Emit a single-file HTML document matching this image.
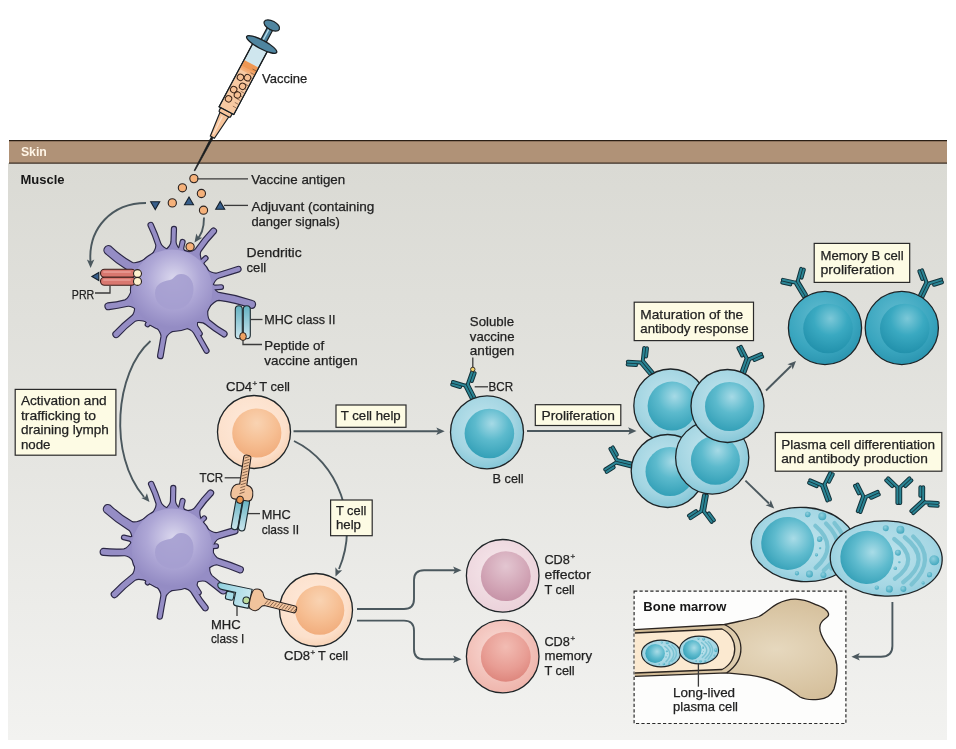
<!DOCTYPE html>
<html><head><meta charset="utf-8">
<style>
html,body{margin:0;padding:0;background:#fff;}
svg{display:block;will-change:transform;}
text{font-family:"Liberation Sans",sans-serif;font-size:13.3px;fill:#222;stroke:#222;stroke-width:0.25px;}
.b{font-weight:bold;}
.ln{stroke:#4b585e;stroke-width:1.9;fill:none;}
.ld{stroke:#3a3a3a;stroke-width:1.3;fill:none;}
.box{fill:#fdfbe4;stroke:#2a2a2a;stroke-width:1.2;}
.ah{fill:#4b585e;}
.ol{stroke:#1f2426;stroke-width:1.3;}
</style></head>
<body>
<svg width="956" height="749" viewBox="0 0 956 749">
<defs>
<linearGradient id="panel" x1="0" y1="0" x2="0" y2="1">
<stop offset="0" stop-color="#dadad4"/><stop offset="0.5" stop-color="#e5e5e1"/><stop offset="1" stop-color="#f2f2f0"/>
</linearGradient>
<radialGradient id="bOut" cx="0.45" cy="0.4" r="0.6">
<stop offset="0" stop-color="#c3e5ee"/><stop offset="0.7" stop-color="#a3d5e2"/><stop offset="1" stop-color="#86c7d8"/>
</radialGradient>
<radialGradient id="bIn" cx="0.55" cy="0.3" r="0.75">
<stop offset="0" stop-color="#a6dae6"/><stop offset="0.45" stop-color="#5cbacd"/><stop offset="1" stop-color="#2f9db5"/>
</radialGradient>
<radialGradient id="mOut" cx="0.45" cy="0.35" r="0.65">
<stop offset="0" stop-color="#63bcd0"/><stop offset="0.7" stop-color="#3aa6bf"/><stop offset="1" stop-color="#2b95b0"/>
</radialGradient>
<radialGradient id="mIn" cx="0.55" cy="0.3" r="0.75">
<stop offset="0" stop-color="#7cc8d8"/><stop offset="0.45" stop-color="#3aa9c1"/><stop offset="1" stop-color="#1f8ea9"/>
</radialGradient>
<radialGradient id="tOut" cx="0.45" cy="0.4" r="0.6">
<stop offset="0" stop-color="#feeadb"/><stop offset="0.8" stop-color="#fce0cb"/><stop offset="1" stop-color="#f8d4b8"/>
</radialGradient>
<radialGradient id="tIn" cx="0.5" cy="0.3" r="0.75">
<stop offset="0" stop-color="#f9d3b2"/><stop offset="0.55" stop-color="#f6be92"/><stop offset="1" stop-color="#f0aa79"/>
</radialGradient>
<radialGradient id="eOut" cx="0.45" cy="0.4" r="0.6">
<stop offset="0" stop-color="#f6e8ec"/><stop offset="1" stop-color="#ebd2da"/>
</radialGradient>
<radialGradient id="eIn" cx="0.5" cy="0.3" r="0.75">
<stop offset="0" stop-color="#e3c6d1"/><stop offset="0.6" stop-color="#d2a5b6"/><stop offset="1" stop-color="#c48fa4"/>
</radialGradient>
<radialGradient id="rOut" cx="0.45" cy="0.4" r="0.6">
<stop offset="0" stop-color="#f9ddd8"/><stop offset="1" stop-color="#efb5ac"/>
</radialGradient>
<radialGradient id="rIn" cx="0.5" cy="0.3" r="0.75">
<stop offset="0" stop-color="#f2bcb3"/><stop offset="0.6" stop-color="#e89d94"/><stop offset="1" stop-color="#dc8279"/>
</radialGradient>
<radialGradient id="dcBody" cx="0.52" cy="0.36" r="0.6">
<stop offset="0" stop-color="#dbd8ee"/><stop offset="0.55" stop-color="#aea7d6"/><stop offset="1" stop-color="#948cc4"/>
</radialGradient>
<radialGradient id="pOut" cx="0.5" cy="0.45" r="0.6">
<stop offset="0" stop-color="#bde3ec"/><stop offset="0.7" stop-color="#a6d7e4"/><stop offset="1" stop-color="#8ccadb"/>
</radialGradient>
<radialGradient id="pIn" cx="0.6" cy="0.4" r="0.7">
<stop offset="0" stop-color="#a9dce7"/><stop offset="0.5" stop-color="#5fbbce"/><stop offset="1" stop-color="#2e9cb4"/>
</radialGradient>
<radialGradient id="pDot" cx="0.4" cy="0.35" r="0.7">
<stop offset="0" stop-color="#8fd0de"/><stop offset="1" stop-color="#3fa6bd"/>
</radialGradient>
<radialGradient id="bone" cx="0.7" cy="0.5" r="0.6">
<stop offset="0" stop-color="#e6d8be"/><stop offset="1" stop-color="#d2bb95"/>
</radialGradient>
<linearGradient id="mhc" x1="0" y1="0" x2="0" y2="1">
<stop offset="0" stop-color="#64b2c2"/><stop offset="1" stop-color="#cbe6ee"/>
</linearGradient>
<linearGradient id="mhcb" x1="0" y1="0" x2="1" y2="0">
<stop offset="0" stop-color="#8fd0de"/><stop offset="1" stop-color="#c8e7ef"/>
</linearGradient>
<marker id="m" markerWidth="10" markerHeight="10" refX="7.5" refY="5" orient="auto" markerUnits="userSpaceOnUse">
<path d="M7.5,5 L0,1.6 L2.5,5 L0,8.4 Z" fill="#4b585e"/>
</marker>
</defs>
<rect x="0" y="0" width="956" height="749" fill="#fff"/>
<rect x="8" y="163" width="939" height="577" fill="url(#panel)"/>
<rect x="9" y="141" width="938" height="22" fill="#b09277"/>
<line x1="9" y1="140.6" x2="947" y2="140.6" stroke="#2a1e14" stroke-width="1.4"/>
<line x1="9" y1="163.2" x2="947" y2="163.2" stroke="#3b2e24" stroke-width="1.3"/>

<text x="20.9" y="156.2" class="b" textLength="26" lengthAdjust="spacingAndGlyphs" style="fill:#fff5e6;stroke:none;font-size:13.6px">Skin</text>
<text x="20.5" y="183.5" class="b" style="font-size:13px;fill:#161616;stroke:none">Muscle</text>
<g transform="translate(272,25) rotate(28)" stroke="#1a1f22" stroke-width="1.2">
<path d="M-1.1,124 L1.1,124 L0.4,165 L-0.4,165 Z" fill="#1a1a1a" stroke-width="0.7"/>
<path d="M-5,101 L5,101 L2.3,127 L-2.3,127 Z" fill="#f6c39a"/>
<path d="M-1,104 L-0.6,124" stroke="#fbe1cb" stroke-width="1.2"/>
<rect x="-6.5" y="95.5" width="13" height="6" rx="1.5" fill="#f6c39a"/>
<rect x="-8.3" y="22" width="16.6" height="75" fill="#cfe6ee"/>
<rect x="-7.7" y="44" width="15.4" height="52.5" fill="#f7c9a2" stroke="none"/>
<rect x="-7.7" y="44" width="15.4" height="8" fill="#ec8e45" stroke="none" opacity="0.85"/>
<rect x="-7.7" y="50" width="15.4" height="4" fill="#f2aa72" stroke="none" opacity="0.8"/>
<rect x="-8.3" y="22" width="16.6" height="75" fill="none"/>
<path d="M3.5,48 H7.5 M3.5,52.2 H7.5 M3.5,56.4 H7.5 M3.5,60.6 H7.5 M3.5,64.8 H7.5 M3.5,69 H7.5 M3.5,73.2 H7.5 M3.5,77.4 H7.5 M3.5,81.6 H7.5 M3.5,85.8 H7.5 M3.5,90 H7.5 " stroke="#6a4a36" stroke-width="0.6"/>
<circle cx="-3.3" cy="61" r="3.2" fill="#f5bf93" stroke="#3a2418" stroke-width="1"/>
<circle cx="3.1" cy="58" r="3.2" fill="#f5bf93" stroke="#3a2418" stroke-width="1"/>
<circle cx="-3.5" cy="75" r="3.2" fill="#f5bf93" stroke="#3a2418" stroke-width="1"/>
<circle cx="2.8" cy="68" r="3.2" fill="#f5bf93" stroke="#3a2418" stroke-width="1"/>
<circle cx="-3.7" cy="85.6" r="3.2" fill="#f5bf93" stroke="#3a2418" stroke-width="1"/>
<circle cx="2.3" cy="78" r="3.2" fill="#f5bf93" stroke="#3a2418" stroke-width="1"/>
<rect x="-3" y="0" width="6" height="22" fill="#4f85a0"/>
<path d="M-0.8,4 V19" stroke="#b7dbe8" stroke-width="1.3"/>
<ellipse cx="0" cy="22" rx="17" ry="4.3" fill="#4f85a0" stroke-width="1.3"/>
<ellipse cx="0" cy="0.5" rx="8.5" ry="4.5" fill="#4f85a0" stroke-width="1.3"/>
</g>
<g transform="translate(803.6,544.5) rotate(4) scale(1,1)">
<ellipse cx="0" cy="0" rx="52.5" ry="37.1" fill="url(#pOut)" stroke="#1e2427" stroke-width="1.3"/>
<circle cx="-15.9" cy="0" r="26.5" fill="url(#pIn)"/>
<path d="M10.4,-19.5 Q36,-0.5 13.6,22.5" stroke="#7cc3d3" stroke-width="4.2" fill="none" stroke-linecap="round"/>
<path d="M20.9,-22.5 Q47.4,0 21.9,24.5" stroke="#7cc3d3" stroke-width="4.2" fill="none" stroke-linecap="round"/>
<path d="M29.3,-23.5 Q54.3,0.75 29.3,22" stroke="#7cc3d3" stroke-width="4.2" fill="none" stroke-linecap="round"/>
<circle cx="2.1" cy="-30.3" r="2.8" fill="url(#pDot)"/>
<circle cx="16.7" cy="-29.4" r="4" fill="url(#pDot)"/>
<circle cx="15.7" cy="-6.5" r="2.8" fill="url(#pDot)"/>
<circle cx="16.7" cy="2.5" r="1.2" fill="url(#pDot)"/>
<circle cx="13.6" cy="9.5" r="1.6" fill="url(#pDot)"/>
<circle cx="-4.6" cy="29.1" r="2.2" fill="url(#pDot)"/>
<circle cx="7.9" cy="29.1" r="3.5" fill="url(#pDot)"/>
<circle cx="21.9" cy="29.1" r="3" fill="url(#pDot)"/>
</g>
<g transform="translate(886.2,558.5) rotate(2) scale(1,1)">
<ellipse cx="0" cy="0" rx="56" ry="37.6" fill="url(#pOut)" stroke="#1e2427" stroke-width="1.3"/>
<circle cx="-19.3" cy="-0.5" r="26.6" fill="url(#pIn)"/>
<path d="M7.3,-19.8 Q35.65,0.1 9.4,20" stroke="#7cc3d3" stroke-width="4.2" fill="none" stroke-linecap="round"/>
<path d="M17.8,-21.9 Q47,-0.4 17.8,23.1" stroke="#7cc3d3" stroke-width="4.2" fill="none" stroke-linecap="round"/>
<path d="M26.2,-22.9 Q51.4,-0.95 26.2,25.2" stroke="#7cc3d3" stroke-width="4.2" fill="none" stroke-linecap="round"/>
<circle cx="-1.5" cy="-30.3" r="3" fill="url(#pDot)"/>
<circle cx="13.2" cy="-29.2" r="4" fill="url(#pDot)"/>
<circle cx="11.5" cy="-6.2" r="3" fill="url(#pDot)"/>
<circle cx="13.2" cy="3.2" r="1.2" fill="url(#pDot)"/>
<circle cx="9.4" cy="9.5" r="1.8" fill="url(#pDot)"/>
<circle cx="-8.4" cy="29.4" r="2.2" fill="url(#pDot)"/>
<circle cx="4.2" cy="30.4" r="3.5" fill="url(#pDot)"/>
<circle cx="18.2" cy="29.8" r="3" fill="url(#pDot)"/>
<circle cx="48.1" cy="0.1" r="5" fill="url(#pDot)"/>
<circle cx="43.9" cy="14.7" r="2.6" fill="url(#pDot)"/>
<circle cx="37.7" cy="23.1" r="1.6" fill="url(#pDot)"/>
</g>
<rect x="634.1" y="591.2" width="211.8" height="132.3" fill="#fdfdfc" stroke="#2a2a2a" stroke-width="1.2" stroke-dasharray="3.2,2.2"/>
<path d="M634.8,629.6 L724.4,624.5 C740,621 752,619 758.9,616.5 C766,613 771,607 777.3,603.8 C785,600 790,599 795.7,599.2 C803,599.5 810,602 814.1,603.8 C819,606 823,607 825.6,609.6 C829,612 829,615 827.9,616.2 C826,619 823,619 821,623 C818,628 820,634 825.6,642.9 C830,650 834,652 835.8,660 C838,668 837,680 834,689 C831,696 825,699 818.7,699.3 C812,700 806,700 800,697 C794,693 786,686 772.7,680.9 C764,677.5 756,676 749.7,675.2 L726.7,672.9 L634.8,676.3 Z" fill="url(#bone)" stroke="none"/>
<path d="M634.8,629.6 L724.4,624.5 C740,621 752,619 758.9,616.5 C766,613 771,607 777.3,603.8 C785,600 790,599 795.7,599.2 C803,599.5 810,602 814.1,603.8 C819,606 823,607 825.6,609.6 C829,612 829,615 827.9,616.2 C826,619 823,619 821,623 C818,628 820,634 825.6,642.9 C830,650 834,652 835.8,660 C838,668 837,680 834,689 C831,696 825,699 818.7,699.3 C812,700 806,700 800,697 C794,693 786,686 772.7,680.9 C764,677.5 756,676 749.7,675.2 L726.7,672.9 L634.8,676.3" fill="none" stroke="#2a2420" stroke-width="1.3"/>
<path d="M724.4,624.5 C746,635 746,660 726.7,672.9" fill="none" stroke="#2a2420" stroke-width="1.3"/>
<path d="M634.8,633 L722,629 C739,637 739,661 722,669.5 L634.8,673 Z" fill="#fbe9d0" stroke="none"/>
<path d="M634.8,633 L722,629 C739,637 739,661 722,669.5 L634.8,673" fill="none" stroke="#2a2420" stroke-width="1.3"/>
<g transform="translate(661,653.5) rotate(0) scale(0.37,0.36)">
<ellipse cx="0" cy="0" rx="52.5" ry="37.1" fill="url(#pOut)" stroke="#1e2427" stroke-width="2.97"/>
<circle cx="-15.9" cy="0" r="26.5" fill="url(#pIn)"/>
<path d="M10.4,-19.5 Q36,-0.5 13.6,22.5" stroke="#7cc3d3" stroke-width="4.2" fill="none" stroke-linecap="round"/>
<path d="M20.9,-22.5 Q47.4,0 21.9,24.5" stroke="#7cc3d3" stroke-width="4.2" fill="none" stroke-linecap="round"/>
<path d="M29.3,-23.5 Q54.3,0.75 29.3,22" stroke="#7cc3d3" stroke-width="4.2" fill="none" stroke-linecap="round"/>
<circle cx="2.1" cy="-30.3" r="2.8" fill="url(#pDot)"/>
<circle cx="16.7" cy="-29.4" r="4" fill="url(#pDot)"/>
<circle cx="15.7" cy="-6.5" r="2.8" fill="url(#pDot)"/>
<circle cx="16.7" cy="2.5" r="1.2" fill="url(#pDot)"/>
<circle cx="13.6" cy="9.5" r="1.6" fill="url(#pDot)"/>
<circle cx="-4.6" cy="29.1" r="2.2" fill="url(#pDot)"/>
<circle cx="7.9" cy="29.1" r="3.5" fill="url(#pDot)"/>
<circle cx="21.9" cy="29.1" r="3" fill="url(#pDot)"/>
</g>
<g transform="translate(699,650) rotate(0) scale(0.35,0.37)">
<ellipse cx="0" cy="0" rx="56" ry="37.6" fill="url(#pOut)" stroke="#1e2427" stroke-width="3.14"/>
<circle cx="-19.3" cy="-0.5" r="26.6" fill="url(#pIn)"/>
<path d="M7.3,-19.8 Q35.65,0.1 9.4,20" stroke="#7cc3d3" stroke-width="4.2" fill="none" stroke-linecap="round"/>
<path d="M17.8,-21.9 Q47,-0.4 17.8,23.1" stroke="#7cc3d3" stroke-width="4.2" fill="none" stroke-linecap="round"/>
<path d="M26.2,-22.9 Q51.4,-0.95 26.2,25.2" stroke="#7cc3d3" stroke-width="4.2" fill="none" stroke-linecap="round"/>
<circle cx="-1.5" cy="-30.3" r="3" fill="url(#pDot)"/>
<circle cx="13.2" cy="-29.2" r="4" fill="url(#pDot)"/>
<circle cx="11.5" cy="-6.2" r="3" fill="url(#pDot)"/>
<circle cx="13.2" cy="3.2" r="1.2" fill="url(#pDot)"/>
<circle cx="9.4" cy="9.5" r="1.8" fill="url(#pDot)"/>
<circle cx="-8.4" cy="29.4" r="2.2" fill="url(#pDot)"/>
<circle cx="4.2" cy="30.4" r="3.5" fill="url(#pDot)"/>
<circle cx="18.2" cy="29.8" r="3" fill="url(#pDot)"/>
<circle cx="48.1" cy="0.1" r="5" fill="url(#pDot)"/>
<circle cx="43.9" cy="14.7" r="2.6" fill="url(#pDot)"/>
<circle cx="37.7" cy="23.1" r="1.6" fill="url(#pDot)"/>
</g>
<text x="643.3" y="610.7" class="b" style="font-size:13px;fill:#161616;stroke:none">Bone marrow</text>
<text x="673.1" y="696.7" textLength="62" lengthAdjust="spacingAndGlyphs">Long-lived</text>
<text x="673.1" y="710.5" textLength="64.9" lengthAdjust="spacingAndGlyphs">plasma cell</text>
<g fill="#2b2745" stroke="#2b2745" stroke-width="2.3" stroke-linejoin="round"><path d="M146.71,258.8 Q136.66,264.48 132.26,263.02 Q120.43,256.41 110.51,246.74 A4,4 0 0 0 106.26,253.51 Q116.39,262.85 128.01,269.8 Q132.2,271.6 132.9,280.83 Z"/><path d="M169.65,250.78 Q161.36,247.71 160.22,243.35 Q156.95,233.66 152.63,224.33 A2.08,2.08 0 0 0 148.67,225.63 Q153.2,234.9 156.27,244.64 Q157.03,249.13 150.64,257.02 Z"/><path d="M182.2,252.3 Q175.58,246.59 175.52,242.09 Q175.63,235.57 175.94,229.06 A2,2 0 0 0 171.94,228.94 Q171.83,235.45 171.52,241.96 Q171.18,246.45 164.21,251.73 Z"/><path d="M187.98,254.61 Q182.83,250.62 183.13,248.34 Q183.7,245.3 184.46,242.29 A1.92,1.92 0 0 0 180.71,241.46 Q180.14,244.51 179.38,247.52 Q178.69,249.71 172.35,251.17 Z"/><path d="M202.88,265.28 Q198.4,255.39 200.32,251.24 Q207.03,241.15 215.58,232.34 A2.4,2.4 0 0 0 211.66,229.58 Q203.31,238.52 196.4,248.47 Q194.15,252.39 184.9,252.6 Z"/><path d="M204.45,269.02 Q202.5,263.94 203.59,262.64 Q205.2,261 206.93,259.49 A1.76,1.76 0 0 0 204.51,256.93 Q202.9,258.56 201.17,260.08 Q199.81,261.09 194.85,258.84 Z"/><path d="M211.25,288.16 Q214.23,279.3 218.47,277.76 Q228.72,274.43 239.03,271.31 A2.24,2.24 0 0 0 237.69,267.03 Q227.44,270.37 217.13,273.49 Q212.77,274.65 205.26,269.08 Z"/><path d="M210.35,294.76 Q212.85,289.56 215.13,289.23 Q218.23,288.96 221.35,288.86 A1.76,1.76 0 0 0 221.14,285.35 Q218.03,285.62 214.92,285.71 Q212.62,285.65 209.52,280.78 Z"/><path d="M207.26,308.57 Q214.38,300.08 218.99,299.87 Q235.39,301.85 251.1,307.71 A3.36,3.36 0 0 0 252.29,301.1 Q236.53,295.57 220.19,293.26 Q215.65,293.08 211.53,284.95 Z"/><path d="M194.62,322.13 Q202.89,320.85 206.05,324.08 Q213.85,330.51 222.62,335.79 A2.4,2.4 0 0 0 225.71,332.12 Q216.79,327.03 209.14,320.41 Q206.24,316.87 207.5,306.84 Z"/><path d="M183.81,326.99 Q191.64,328.87 194.04,332.69 Q199.54,342.18 204.88,351.78 A1.92,1.92 0 0 0 208.22,349.88 Q202.72,340.38 197.38,330.79 Q195.33,326.78 197.72,319.09 Z"/><path d="M186.7,325.73 Q192.94,325.82 194.64,328.08 Q196.78,331.26 198.79,334.52 A1.6,1.6 0 0 0 201.48,332.79 Q199.34,329.61 197.33,326.35 Q195.97,323.87 198.47,318.15 Z"/><path d="M155.55,325.68 Q162.04,332.41 161.45,336.88 Q159.93,346.16 158.18,355.4 A2.24,2.24 0 0 0 162.6,356.18 Q164.12,346.9 165.86,337.66 Q166.84,333.26 175.24,329.16 Z"/><path d="M144.32,316.96 Q147.81,320.76 147.47,321.59 Q146.85,322.62 146.08,323.55 A1.76,1.76 0 0 0 148.95,325.58 Q149.57,324.55 150.34,323.63 Q151.01,323.02 155.75,325.06 Z"/><path d="M135.39,304.99 Q135.49,313.97 131.7,316.43 Q122.55,323.65 114.44,332.18 A2.72,2.72 0 0 0 117.82,336.44 Q125.76,327.7 135.08,320.69 Q139.12,318.54 149.06,322.23 Z"/><path d="M132.46,288.75 Q129.31,298.64 125.12,300.41 Q116.53,302.66 107.58,303.5 A2.88,2.88 0 0 0 109,309.08 Q117.88,307.97 126.55,305.99 Q130.83,304.61 137.91,310.07 Z"/><circle cx="172" cy="290" r="41"/></g>
<g fill="#958dc5"><path d="M146.71,258.8 Q136.66,264.48 132.26,263.02 Q120.43,256.41 110.51,246.74 A4,4 0 0 0 106.26,253.51 Q116.39,262.85 128.01,269.8 Q132.2,271.6 132.9,280.83 Z"/><path d="M169.65,250.78 Q161.36,247.71 160.22,243.35 Q156.95,233.66 152.63,224.33 A2.08,2.08 0 0 0 148.67,225.63 Q153.2,234.9 156.27,244.64 Q157.03,249.13 150.64,257.02 Z"/><path d="M182.2,252.3 Q175.58,246.59 175.52,242.09 Q175.63,235.57 175.94,229.06 A2,2 0 0 0 171.94,228.94 Q171.83,235.45 171.52,241.96 Q171.18,246.45 164.21,251.73 Z"/><path d="M187.98,254.61 Q182.83,250.62 183.13,248.34 Q183.7,245.3 184.46,242.29 A1.92,1.92 0 0 0 180.71,241.46 Q180.14,244.51 179.38,247.52 Q178.69,249.71 172.35,251.17 Z"/><path d="M202.88,265.28 Q198.4,255.39 200.32,251.24 Q207.03,241.15 215.58,232.34 A2.4,2.4 0 0 0 211.66,229.58 Q203.31,238.52 196.4,248.47 Q194.15,252.39 184.9,252.6 Z"/><path d="M204.45,269.02 Q202.5,263.94 203.59,262.64 Q205.2,261 206.93,259.49 A1.76,1.76 0 0 0 204.51,256.93 Q202.9,258.56 201.17,260.08 Q199.81,261.09 194.85,258.84 Z"/><path d="M211.25,288.16 Q214.23,279.3 218.47,277.76 Q228.72,274.43 239.03,271.31 A2.24,2.24 0 0 0 237.69,267.03 Q227.44,270.37 217.13,273.49 Q212.77,274.65 205.26,269.08 Z"/><path d="M210.35,294.76 Q212.85,289.56 215.13,289.23 Q218.23,288.96 221.35,288.86 A1.76,1.76 0 0 0 221.14,285.35 Q218.03,285.62 214.92,285.71 Q212.62,285.65 209.52,280.78 Z"/><path d="M207.26,308.57 Q214.38,300.08 218.99,299.87 Q235.39,301.85 251.1,307.71 A3.36,3.36 0 0 0 252.29,301.1 Q236.53,295.57 220.19,293.26 Q215.65,293.08 211.53,284.95 Z"/><path d="M194.62,322.13 Q202.89,320.85 206.05,324.08 Q213.85,330.51 222.62,335.79 A2.4,2.4 0 0 0 225.71,332.12 Q216.79,327.03 209.14,320.41 Q206.24,316.87 207.5,306.84 Z"/><path d="M183.81,326.99 Q191.64,328.87 194.04,332.69 Q199.54,342.18 204.88,351.78 A1.92,1.92 0 0 0 208.22,349.88 Q202.72,340.38 197.38,330.79 Q195.33,326.78 197.72,319.09 Z"/><path d="M186.7,325.73 Q192.94,325.82 194.64,328.08 Q196.78,331.26 198.79,334.52 A1.6,1.6 0 0 0 201.48,332.79 Q199.34,329.61 197.33,326.35 Q195.97,323.87 198.47,318.15 Z"/><path d="M155.55,325.68 Q162.04,332.41 161.45,336.88 Q159.93,346.16 158.18,355.4 A2.24,2.24 0 0 0 162.6,356.18 Q164.12,346.9 165.86,337.66 Q166.84,333.26 175.24,329.16 Z"/><path d="M144.32,316.96 Q147.81,320.76 147.47,321.59 Q146.85,322.62 146.08,323.55 A1.76,1.76 0 0 0 148.95,325.58 Q149.57,324.55 150.34,323.63 Q151.01,323.02 155.75,325.06 Z"/><path d="M135.39,304.99 Q135.49,313.97 131.7,316.43 Q122.55,323.65 114.44,332.18 A2.72,2.72 0 0 0 117.82,336.44 Q125.76,327.7 135.08,320.69 Q139.12,318.54 149.06,322.23 Z"/><path d="M132.46,288.75 Q129.31,298.64 125.12,300.41 Q116.53,302.66 107.58,303.5 A2.88,2.88 0 0 0 109,309.08 Q117.88,307.97 126.55,305.99 Q130.83,304.61 137.91,310.07 Z"/><circle cx="172" cy="290" r="41"/></g>
<circle cx="172" cy="290" r="40.5" fill="url(#dcBody)"/>
<path transform="translate(0,0)" d="M155,293 C155,284 163,281 170,280 C174,279 175,274 181,274 C189,274 194,281 193.5,290 C193,301 186,309 175,309.5 C163,310 155,303 155,293 Z" fill="#a59ed0" opacity="0.9"/>
<g fill="#2b2745" stroke="#2b2745" stroke-width="2.3" stroke-linejoin="round"><path d="M146.6,517.89 Q136.58,523.59 132.18,522.14 Q120.13,515.48 110.01,505.72 A4,4 0 0 0 105.78,512.51 Q116.12,521.93 127.95,528.93 Q132.14,530.72 132.87,539.96 Z"/><path d="M169.91,509.76 Q161.65,506.64 160.54,502.27 Q157.36,492.64 153.12,483.34 A2.08,2.08 0 0 0 149.16,484.62 Q153.59,493.84 156.58,503.54 Q157.31,508.03 150.87,515.87 Z"/><path d="M181.78,511.19 Q175.1,505.55 174.99,501.05 Q175.02,494.54 175.26,488.04 A2,2 0 0 0 171.26,487.96 Q171.22,494.47 170.99,500.97 Q170.7,505.46 163.79,510.82 Z"/><path d="M187.98,513.61 Q182.83,509.62 183.13,507.34 Q183.7,504.3 184.46,501.29 A1.92,1.92 0 0 0 180.71,500.46 Q180.14,503.51 179.38,506.52 Q178.69,508.71 172.35,510.17 Z"/><path d="M202.63,523.96 Q197.94,514.05 199.8,509.87 Q205.39,501.54 212.61,494.34 A2.4,2.4 0 0 0 208.66,491.61 Q201.64,498.95 195.85,507.14 Q193.66,511.1 184.52,511.47 Z"/><path d="M204.28,527.77 Q201.96,523.01 202.77,521.96 Q204,520.66 205.35,519.49 A1.76,1.76 0 0 0 202.91,516.95 Q201.68,518.25 200.33,519.42 Q199.24,520.18 194.6,517.66 Z"/><path d="M211.56,548.96 Q214.59,539.67 218.85,538.22 Q227.16,535.67 235.55,533.37 A2.72,2.72 0 0 0 234.03,528.15 Q225.72,530.7 217.34,533 Q212.96,534.06 205.42,527.84 Z"/><path d="M210.37,553.51 Q211.61,548.38 212.88,548.1 Q214.61,547.9 216.36,547.87 A1.76,1.76 0 0 0 216.13,544.36 Q214.4,544.56 212.65,544.59 Q211.36,544.47 209.46,539.54 Z"/><path d="M205.16,570.57 Q212.99,563.72 217.49,564.39 Q228.7,567.52 239.41,572.31 A2.72,2.72 0 0 0 240.99,567.11 Q230.2,562.58 219.07,559.18 Q214.69,558.13 211.56,549.52 Z"/><path d="M194.25,582.06 Q203.66,579.07 207.31,581.72 Q214.24,587 220.94,592.57 A3.6,3.6 0 0 0 225.43,586.94 Q218.5,581.65 211.79,576.08 Q208.4,573.12 209.2,563.28 Z"/><path d="M182,587 Q190.19,588.69 192.02,592.82 Q196.99,601.32 203.23,609.09 A2.4,2.4 0 0 0 207.41,606.73 Q200.96,599.07 196.2,590.46 Q194.72,586.13 199.41,577.15 Z"/><path d="M186.13,584.96 Q192.3,585.03 193.9,587.23 Q195.92,590.32 197.8,593.49 A1.6,1.6 0 0 0 200.51,591.8 Q198.5,588.71 196.62,585.54 Q195.36,583.13 198.02,577.57 Z"/><path d="M155.39,584.61 Q162.01,591.4 161.4,595.86 Q159.67,606.04 157.72,616.18 A2.08,2.08 0 0 0 161.82,616.92 Q163.55,606.74 165.5,596.6 Q166.49,592.21 175.07,588.17 Z"/><path d="M144.02,575.64 Q147.59,579.3 147.34,579.99 Q146.84,580.82 146.21,581.54 A1.76,1.76 0 0 0 149.06,583.61 Q149.55,582.78 150.18,582.06 Q150.76,581.6 155.35,583.87 Z"/><path d="M135.35,563.89 Q135.45,572.9 131.66,575.36 Q121.71,583.07 112.85,592.18 A2.72,2.72 0 0 0 116.22,596.45 Q124.91,587.13 135.03,579.63 Q139.07,577.49 148.97,581.17 Z"/><path d="M133.57,539.61 Q128.44,548.56 123.98,549.43 Q113.75,550.02 103.46,549 A2.88,2.88 0 0 0 103.7,554.76 Q113.98,555.49 124.22,555.18 Q128.7,554.71 134.5,561.59 Z"/><path d="M136.68,533.33 Q132.7,537.55 130.36,537.2 Q127.22,536.53 124.12,535.7 A1.76,1.76 0 0 0 123.3,539.12 Q126.44,539.78 129.54,540.62 Q131.79,541.36 133.42,546.94 Z"/><circle cx="172" cy="549" r="41"/></g>
<g fill="#958dc5"><path d="M146.6,517.89 Q136.58,523.59 132.18,522.14 Q120.13,515.48 110.01,505.72 A4,4 0 0 0 105.78,512.51 Q116.12,521.93 127.95,528.93 Q132.14,530.72 132.87,539.96 Z"/><path d="M169.91,509.76 Q161.65,506.64 160.54,502.27 Q157.36,492.64 153.12,483.34 A2.08,2.08 0 0 0 149.16,484.62 Q153.59,493.84 156.58,503.54 Q157.31,508.03 150.87,515.87 Z"/><path d="M181.78,511.19 Q175.1,505.55 174.99,501.05 Q175.02,494.54 175.26,488.04 A2,2 0 0 0 171.26,487.96 Q171.22,494.47 170.99,500.97 Q170.7,505.46 163.79,510.82 Z"/><path d="M187.98,513.61 Q182.83,509.62 183.13,507.34 Q183.7,504.3 184.46,501.29 A1.92,1.92 0 0 0 180.71,500.46 Q180.14,503.51 179.38,506.52 Q178.69,508.71 172.35,510.17 Z"/><path d="M202.63,523.96 Q197.94,514.05 199.8,509.87 Q205.39,501.54 212.61,494.34 A2.4,2.4 0 0 0 208.66,491.61 Q201.64,498.95 195.85,507.14 Q193.66,511.1 184.52,511.47 Z"/><path d="M204.28,527.77 Q201.96,523.01 202.77,521.96 Q204,520.66 205.35,519.49 A1.76,1.76 0 0 0 202.91,516.95 Q201.68,518.25 200.33,519.42 Q199.24,520.18 194.6,517.66 Z"/><path d="M211.56,548.96 Q214.59,539.67 218.85,538.22 Q227.16,535.67 235.55,533.37 A2.72,2.72 0 0 0 234.03,528.15 Q225.72,530.7 217.34,533 Q212.96,534.06 205.42,527.84 Z"/><path d="M210.37,553.51 Q211.61,548.38 212.88,548.1 Q214.61,547.9 216.36,547.87 A1.76,1.76 0 0 0 216.13,544.36 Q214.4,544.56 212.65,544.59 Q211.36,544.47 209.46,539.54 Z"/><path d="M205.16,570.57 Q212.99,563.72 217.49,564.39 Q228.7,567.52 239.41,572.31 A2.72,2.72 0 0 0 240.99,567.11 Q230.2,562.58 219.07,559.18 Q214.69,558.13 211.56,549.52 Z"/><path d="M194.25,582.06 Q203.66,579.07 207.31,581.72 Q214.24,587 220.94,592.57 A3.6,3.6 0 0 0 225.43,586.94 Q218.5,581.65 211.79,576.08 Q208.4,573.12 209.2,563.28 Z"/><path d="M182,587 Q190.19,588.69 192.02,592.82 Q196.99,601.32 203.23,609.09 A2.4,2.4 0 0 0 207.41,606.73 Q200.96,599.07 196.2,590.46 Q194.72,586.13 199.41,577.15 Z"/><path d="M186.13,584.96 Q192.3,585.03 193.9,587.23 Q195.92,590.32 197.8,593.49 A1.6,1.6 0 0 0 200.51,591.8 Q198.5,588.71 196.62,585.54 Q195.36,583.13 198.02,577.57 Z"/><path d="M155.39,584.61 Q162.01,591.4 161.4,595.86 Q159.67,606.04 157.72,616.18 A2.08,2.08 0 0 0 161.82,616.92 Q163.55,606.74 165.5,596.6 Q166.49,592.21 175.07,588.17 Z"/><path d="M144.02,575.64 Q147.59,579.3 147.34,579.99 Q146.84,580.82 146.21,581.54 A1.76,1.76 0 0 0 149.06,583.61 Q149.55,582.78 150.18,582.06 Q150.76,581.6 155.35,583.87 Z"/><path d="M135.35,563.89 Q135.45,572.9 131.66,575.36 Q121.71,583.07 112.85,592.18 A2.72,2.72 0 0 0 116.22,596.45 Q124.91,587.13 135.03,579.63 Q139.07,577.49 148.97,581.17 Z"/><path d="M133.57,539.61 Q128.44,548.56 123.98,549.43 Q113.75,550.02 103.46,549 A2.88,2.88 0 0 0 103.7,554.76 Q113.98,555.49 124.22,555.18 Q128.7,554.71 134.5,561.59 Z"/><path d="M136.68,533.33 Q132.7,537.55 130.36,537.2 Q127.22,536.53 124.12,535.7 A1.76,1.76 0 0 0 123.3,539.12 Q126.44,539.78 129.54,540.62 Q131.79,541.36 133.42,546.94 Z"/><circle cx="172" cy="549" r="41"/></g>
<circle cx="172" cy="549" r="40.5" fill="url(#dcBody)"/>
<path transform="translate(0,259)" d="M155,293 C155,284 163,281 170,280 C174,279 175,274 181,274 C189,274 194,281 193.5,290 C193,301 186,309 175,309.5 C163,310 155,303 155,293 Z" fill="#a59ed0" opacity="0.9"/>
<circle cx="193.9" cy="178.6" r="4.1" fill="#f5b17a" stroke="#2a2220" stroke-width="1.1"/>
<circle cx="182.4" cy="187.8" r="4.1" fill="#f5b17a" stroke="#2a2220" stroke-width="1.1"/>
<circle cx="201.4" cy="193.5" r="4.1" fill="#f5b17a" stroke="#2a2220" stroke-width="1.1"/>
<circle cx="172.3" cy="202.9" r="4.1" fill="#f5b17a" stroke="#2a2220" stroke-width="1.1"/>
<circle cx="203.5" cy="210.2" r="4.1" fill="#f5b17a" stroke="#2a2220" stroke-width="1.1"/>
<path d="M155.2,209.6 L150.7,201.8 L159.7,201.8 Z" fill="#375f8c" stroke="#15202c" stroke-width="1.1"/>
<path d="M189,197 L193.5,204.8 L184.5,204.8 Z" fill="#375f8c" stroke="#15202c" stroke-width="1.1"/>
<path d="M220.2,201.4 L224.7,209.2 L215.7,209.2 Z" fill="#375f8c" stroke="#15202c" stroke-width="1.1"/>
<circle cx="190.1" cy="246.8" r="4.1" fill="#f5b17a" stroke="#2a2220" stroke-width="1.1"/>
<rect x="100.5" y="269.3" width="35" height="8" rx="4" fill="#d9776f" stroke="#3a1c1a" stroke-width="1.1"/>
<rect x="100.5" y="277.3" width="35" height="8" rx="4" fill="#d9776f" stroke="#3a1c1a" stroke-width="1.1"/>
<rect x="103" y="271" width="28" height="2" rx="1" fill="#eaa19a" opacity="0.7"/>
<rect x="103" y="279" width="28" height="2" rx="1" fill="#eaa19a" opacity="0.7"/>
<circle cx="137.5" cy="273.6" r="4" fill="#fdf1cf" stroke="#2a2220" stroke-width="1.1"/>
<circle cx="137.5" cy="281.4" r="4" fill="#fdf1cf" stroke="#2a2220" stroke-width="1.1"/>
<path d="M91.9,276.5 L98.8,272.52 L98.8,280.48 Z" fill="#375f8c" stroke="#15202c" stroke-width="1.1"/>
<rect x="235.3" y="305.8" width="7" height="33" rx="3.5" fill="url(#mhc)" stroke="#1d2a30" stroke-width="1.1"/>
<rect x="243.3" y="305.8" width="7" height="33" rx="3.5" fill="url(#mhc)" stroke="#1d2a30" stroke-width="1.1"/>
<ellipse cx="243" cy="336.5" rx="3.3" ry="4" fill="#f0a262" stroke="#2a2220" stroke-width="1"/>
<path class="ln" d="M146,203 C112,203 88,228 90.5,262"/>
<path class="ah" d="M90.6,268 L94.3,259.6 L90.6,261.5 L86.9,259.6 Z"/>
<path class="ln" d="M204,217.5 C204,228 201,236 196,240"/>
<path class="ah" d="M194.5,242.5 L202.35,237.74 L198.23,237.18 L196.29,233.5 Z"/>
<path class="ln" d="M150.5,341 C115,372 108,455 144,497"/>
<path class="ah" d="M149.5,502 L146.93,493.19 L145.32,497.02 L141.27,497.94 Z"/>
<path class="ln" d="M293.5,431.2 H438"/>
<path class="ah" d="M444.7,431.2 L436.3,427.5 L438.2,431.2 L436.3,434.9 Z"/>
<path class="ln" d="M527,431 H630"/>
<path class="ah" d="M636.5,431 L628.1,427.3 L630,431 L628.1,434.7 Z"/>
<path class="ln" d="M294,441 C338,462 360,520 339,569"/>
<path class="ah" d="M335.5,576.5 L342.19,570.21 L338.04,570.52 L335.38,567.32 Z"/>
<path class="ln" d="M357,609 H404 Q414,609 414,599 V580 Q414,570.2 424,570.2 H455"/>
<path class="ah" d="M461.5,570.2 L453.1,566.5 L455,570.2 L453.1,573.9 Z"/>
<path class="ln" d="M357,620.6 H404 Q414,620.6 414,630.6 V649.2 Q414,659.2 424,659.2 H455"/>
<path class="ah" d="M461.5,659.2 L453.1,655.5 L455,659.2 L453.1,662.9 Z"/>
<path class="ln" d="M766,390.5 L791,366"/>
<path class="ah" d="M796,361 L787.44,364.32 L791.4,365.6 L792.68,369.56 Z"/>
<path class="ln" d="M745.4,480.6 L769,503.5"/>
<path class="ah" d="M774.2,508.4 L770.73,499.9 L769.52,503.88 L765.59,505.23 Z"/>
<path class="ln" d="M892.4,602 V646 Q892.4,656.7 881,656.7 H858"/>
<path class="ah" d="M851.4,656.7 L859.8,660.4 L857.9,656.7 L859.8,653 Z"/>
<path class="ld" d="M197,178.8 H248"/>
<path class="ld" d="M224,205.4 H248"/>
<path class="ld" d="M110,286 V293 H95"/>
<path class="ld" d="M250.5,319.5 H262.5"/>
<path class="ld" d="M243,340 V344.5 H262"/>
<path class="ld" d="M472.8,368 V357.5"/>
<path class="ld" d="M474.7,386.8 H488"/>
<path class="ld" d="M224.7,477.8 H240.7"/>
<path class="ld" d="M247.4,513.6 H260"/>
<path class="ld" d="M237,601 V616"/>
<path class="ld" d="M698.4,663 V686.7"/>
<text x="262" y="83" textLength="45.3" lengthAdjust="spacingAndGlyphs">Vaccine</text>
<text x="251.2" y="184" textLength="94" lengthAdjust="spacingAndGlyphs">Vaccine antigen</text>
<text x="251.4" y="211" textLength="123" lengthAdjust="spacingAndGlyphs">Adjuvant (containing</text>
<text x="251.4" y="225.5" textLength="88.5" lengthAdjust="spacingAndGlyphs">danger signals)</text>
<text x="246.6" y="256.8" textLength="55.1" lengthAdjust="spacingAndGlyphs">Dendritic</text>
<text x="246.6" y="271.6" textLength="19.6" lengthAdjust="spacingAndGlyphs">cell</text>
<text x="71.8" y="299" textLength="22.5" lengthAdjust="spacingAndGlyphs">PRR</text>
<text x="264.3" y="323.7" textLength="71.2" lengthAdjust="spacingAndGlyphs">MHC class II</text>
<text x="264.3" y="349.8" textLength="59.9" lengthAdjust="spacingAndGlyphs">Peptide of</text>
<text x="264.3" y="364.7" textLength="93.4" lengthAdjust="spacingAndGlyphs">vaccine antigen</text>
<rect class="box" x="15.2" y="389.4" width="100.7" height="65.8"/>
<text x="20.9" y="404.8" textLength="85.7" lengthAdjust="spacingAndGlyphs">Activation and</text>
<text x="20.9" y="419.5" textLength="75.1" lengthAdjust="spacingAndGlyphs">trafficking to</text>
<text x="20.9" y="434.3" textLength="88" lengthAdjust="spacingAndGlyphs">draining lymph</text>
<text x="20.9" y="448.5" textLength="29.6" lengthAdjust="spacingAndGlyphs">node</text>
<text x="469.8" y="325.9" textLength="44.2" lengthAdjust="spacingAndGlyphs">Soluble</text>
<text x="469.8" y="340.9" textLength="44.7" lengthAdjust="spacingAndGlyphs">vaccine</text>
<text x="469.8" y="354.7" textLength="44.5" lengthAdjust="spacingAndGlyphs">antigen</text>
<text x="488.6" y="391.3" textLength="24.6" lengthAdjust="spacingAndGlyphs">BCR</text>
<text x="225.9" y="390.9"><tspan textLength="26.3" lengthAdjust="spacingAndGlyphs">CD4</tspan><tspan x="252.6" y="386" style="font-size:8px">+</tspan><tspan x="259.3" y="390.9" textLength="30.6" lengthAdjust="spacingAndGlyphs">T cell</tspan></text>
<rect class="box" x="336" y="405" width="70" height="22.3"/>
<text x="340.7" y="419.7" textLength="60" lengthAdjust="spacingAndGlyphs">T cell help</text>
<rect class="box" x="535.3" y="404.7" width="85.5" height="20.8"/>
<text x="541.5" y="420.2" textLength="73.4" lengthAdjust="spacingAndGlyphs">Proliferation</text>
<text x="492.6" y="483" textLength="31" lengthAdjust="spacingAndGlyphs">B cell</text>
<rect class="box" x="634.2" y="302.2" width="119.3" height="38.4"/>
<text x="640.3" y="318.8" textLength="102.9" lengthAdjust="spacingAndGlyphs">Maturation of the</text>
<text x="640.3" y="332.6" textLength="108.3" lengthAdjust="spacingAndGlyphs">antibody response</text>
<rect class="box" x="814.2" y="243.4" width="95.5" height="39"/>
<text x="820.5" y="259.8" textLength="83.2" lengthAdjust="spacingAndGlyphs">Memory B cell</text>
<text x="820.5" y="273.9" textLength="73.8" lengthAdjust="spacingAndGlyphs">proliferation</text>
<rect class="box" x="775.3" y="432.5" width="166.5" height="38.7"/>
<text x="781.2" y="448.9" textLength="153.8" lengthAdjust="spacingAndGlyphs">Plasma cell differentiation</text>
<text x="781.2" y="463.1" textLength="146.7" lengthAdjust="spacingAndGlyphs">and antibody production</text>
<text x="199.4" y="481.7" textLength="23.8" lengthAdjust="spacingAndGlyphs">TCR</text>
<text x="261.7" y="519.3" textLength="29" lengthAdjust="spacingAndGlyphs">MHC</text>
<text x="261.7" y="533.5" textLength="37.4" lengthAdjust="spacingAndGlyphs">class II</text>
<rect class="box" x="330.6" y="500" width="41.6" height="35.7"/>
<text x="335.9" y="514.9" textLength="30.5" lengthAdjust="spacingAndGlyphs">T cell</text>
<text x="335.9" y="528.5" textLength="25.1" lengthAdjust="spacingAndGlyphs">help</text>
<text x="210.9" y="628.7" textLength="29.7" lengthAdjust="spacingAndGlyphs">MHC</text>
<text x="210.9" y="642.6" textLength="33.5" lengthAdjust="spacingAndGlyphs">class I</text>
<text x="284" y="660"><tspan textLength="26.1" lengthAdjust="spacingAndGlyphs">CD8</tspan><tspan x="310.6" y="655" style="font-size:8px">+</tspan><tspan x="318.1" y="660" textLength="30.1" lengthAdjust="spacingAndGlyphs">T cell</tspan></text>
<text x="544.4" y="563.7"><tspan textLength="25.5" lengthAdjust="spacingAndGlyphs">CD8</tspan><tspan x="570.5" y="558.7" style="font-size:8px">+</tspan></text>
<text x="544.4" y="578.7" textLength="46.4" lengthAdjust="spacingAndGlyphs">effector</text>
<text x="544.4" y="593.7" textLength="30.3" lengthAdjust="spacingAndGlyphs">T cell</text>
<text x="544.4" y="645.7"><tspan textLength="25.5" lengthAdjust="spacingAndGlyphs">CD8</tspan><tspan x="570.5" y="640.7" style="font-size:8px">+</tspan></text>
<text x="544.4" y="660.1" textLength="47.7" lengthAdjust="spacingAndGlyphs">memory</text>
<text x="544.4" y="674.5" textLength="30.3" lengthAdjust="spacingAndGlyphs">T cell</text>
<circle cx="254" cy="432" r="36.5" fill="url(#tOut)" stroke="#1e2427" stroke-width="1.3"/><circle cx="256.8" cy="433" r="24.6" fill="url(#tIn)"/>
<circle cx="316" cy="610" r="36.5" fill="url(#tOut)" stroke="#1e2427" stroke-width="1.3"/><circle cx="319.7" cy="610.2" r="24.6" fill="url(#tIn)"/>
<circle cx="502.7" cy="575.8" r="36.3" fill="url(#eOut)" stroke="#1e2427" stroke-width="1.3"/><circle cx="505.8" cy="576.2" r="24.9" fill="url(#eIn)"/>
<circle cx="502.7" cy="656.5" r="36.3" fill="url(#rOut)" stroke="#1e2427" stroke-width="1.3"/><circle cx="505.8" cy="656.8" r="24.9" fill="url(#rIn)"/>
<g transform="translate(466.7,385.4) rotate(-27) scale(1)"><path d="M-1.4,15.5 L-1.4,-0.5 M1.4,15.5 L1.4,-0.5 M-1.4,-0.5 L-10.7,-9.3 M-6.58,-1.55 L-12.62,-7.27 M1.4,-0.5 L10.7,-9.3 M6.58,-1.55 L12.62,-7.27" stroke="#13323a" stroke-width="4.0" fill="none" stroke-linecap="round"/><path d="M-1.4,15.5 L-1.4,-0.5 M1.4,15.5 L1.4,-0.5 M-1.4,-0.5 L-10.7,-9.3 M-6.58,-1.55 L-12.62,-7.27 M1.4,-0.5 L10.7,-9.3 M6.58,-1.55 L12.62,-7.27" stroke="#2b8595" stroke-width="2.0" fill="none" stroke-linecap="round"/></g>
<circle cx="487" cy="432.3" r="36.5" fill="url(#bOut)" stroke="#1e2427" stroke-width="1.3"/><circle cx="489.4" cy="433.5" r="24.8" fill="url(#bIn)"/>
<g transform="translate(642,362) rotate(-40) scale(1)"><path d="M-1.4,15.5 L-1.4,-0.5 M1.4,15.5 L1.4,-0.5 M-1.4,-0.5 L-10.7,-9.3 M-6.58,-1.55 L-12.62,-7.27 M1.4,-0.5 L10.7,-9.3 M6.58,-1.55 L12.62,-7.27" stroke="#13323a" stroke-width="4.0" fill="none" stroke-linecap="round"/><path d="M-1.4,15.5 L-1.4,-0.5 M1.4,15.5 L1.4,-0.5 M-1.4,-0.5 L-10.7,-9.3 M-6.58,-1.55 L-12.62,-7.27 M1.4,-0.5 L10.7,-9.3 M6.58,-1.55 L12.62,-7.27" stroke="#2b8595" stroke-width="2.0" fill="none" stroke-linecap="round"/></g>
<g transform="translate(747.8,359.2) rotate(20) scale(1)"><path d="M-1.4,15.5 L-1.4,-0.5 M1.4,15.5 L1.4,-0.5 M-1.4,-0.5 L-10.7,-9.3 M-6.58,-1.55 L-12.62,-7.27 M1.4,-0.5 L10.7,-9.3 M6.58,-1.55 L12.62,-7.27" stroke="#13323a" stroke-width="4.0" fill="none" stroke-linecap="round"/><path d="M-1.4,15.5 L-1.4,-0.5 M1.4,15.5 L1.4,-0.5 M-1.4,-0.5 L-10.7,-9.3 M-6.58,-1.55 L-12.62,-7.27 M1.4,-0.5 L10.7,-9.3 M6.58,-1.55 L12.62,-7.27" stroke="#2b8595" stroke-width="2.0" fill="none" stroke-linecap="round"/></g>
<g transform="translate(616.8,461.4) rotate(-76) scale(1)"><path d="M-1.4,15.5 L-1.4,-0.5 M1.4,15.5 L1.4,-0.5 M-1.4,-0.5 L-10.7,-9.3 M-6.58,-1.55 L-12.62,-7.27 M1.4,-0.5 L10.7,-9.3 M6.58,-1.55 L12.62,-7.27" stroke="#13323a" stroke-width="4.0" fill="none" stroke-linecap="round"/><path d="M-1.4,15.5 L-1.4,-0.5 M1.4,15.5 L1.4,-0.5 M-1.4,-0.5 L-10.7,-9.3 M-6.58,-1.55 L-12.62,-7.27 M1.4,-0.5 L10.7,-9.3 M6.58,-1.55 L12.62,-7.27" stroke="#2b8595" stroke-width="2.0" fill="none" stroke-linecap="round"/></g>
<g transform="translate(702.7,510.8) rotate(-170) scale(1)"><path d="M-1.4,15.5 L-1.4,-0.5 M1.4,15.5 L1.4,-0.5 M-1.4,-0.5 L-10.7,-9.3 M-6.58,-1.55 L-12.62,-7.27 M1.4,-0.5 L10.7,-9.3 M6.58,-1.55 L12.62,-7.27" stroke="#13323a" stroke-width="4.0" fill="none" stroke-linecap="round"/><path d="M-1.4,15.5 L-1.4,-0.5 M1.4,15.5 L1.4,-0.5 M-1.4,-0.5 L-10.7,-9.3 M-6.58,-1.55 L-12.62,-7.27 M1.4,-0.5 L10.7,-9.3 M6.58,-1.55 L12.62,-7.27" stroke="#2b8595" stroke-width="2.0" fill="none" stroke-linecap="round"/></g>
<circle cx="670.6" cy="405.8" r="36.8" fill="url(#bOut)" stroke="#1e2427" stroke-width="1.3"/><circle cx="672.1" cy="406.1" r="24.5" fill="url(#bIn)"/>
<circle cx="667.7" cy="471" r="36.5" fill="url(#bOut)" stroke="#1e2427" stroke-width="1.3"/><circle cx="670" cy="471.5" r="24.5" fill="url(#bIn)"/>
<circle cx="712.2" cy="457.5" r="36.6" fill="url(#bOut)" stroke="#1e2427" stroke-width="1.3"/><circle cx="715.4" cy="460.3" r="24.5" fill="url(#bIn)"/>
<circle cx="727.5" cy="406" r="36.5" fill="url(#bOut)" stroke="#1e2427" stroke-width="1.3"/><circle cx="729.5" cy="406.5" r="24.5" fill="url(#bIn)"/>
<g transform="translate(796.8,282.3) rotate(-31) scale(1)"><path d="M-1.4,15.5 L-1.4,-0.5 M1.4,15.5 L1.4,-0.5 M-1.4,-0.5 L-10.7,-9.3 M-6.58,-1.55 L-12.62,-7.27 M1.4,-0.5 L10.7,-9.3 M6.58,-1.55 L12.62,-7.27" stroke="#13323a" stroke-width="4.0" fill="none" stroke-linecap="round"/><path d="M-1.4,15.5 L-1.4,-0.5 M1.4,15.5 L1.4,-0.5 M-1.4,-0.5 L-10.7,-9.3 M-6.58,-1.55 L-12.62,-7.27 M1.4,-0.5 L10.7,-9.3 M6.58,-1.55 L12.62,-7.27" stroke="#2b8595" stroke-width="2.0" fill="none" stroke-linecap="round"/></g>
<g transform="translate(927.5,283.3) rotate(26) scale(1)"><path d="M-1.4,15.5 L-1.4,-0.5 M1.4,15.5 L1.4,-0.5 M-1.4,-0.5 L-10.7,-9.3 M-6.58,-1.55 L-12.62,-7.27 M1.4,-0.5 L10.7,-9.3 M6.58,-1.55 L12.62,-7.27" stroke="#13323a" stroke-width="4.0" fill="none" stroke-linecap="round"/><path d="M-1.4,15.5 L-1.4,-0.5 M1.4,15.5 L1.4,-0.5 M-1.4,-0.5 L-10.7,-9.3 M-6.58,-1.55 L-12.62,-7.27 M1.4,-0.5 L10.7,-9.3 M6.58,-1.55 L12.62,-7.27" stroke="#2b8595" stroke-width="2.0" fill="none" stroke-linecap="round"/></g>
<circle cx="825" cy="328" r="36.6" fill="url(#mOut)" stroke="#1e2427" stroke-width="1.3"/><circle cx="828" cy="328.5" r="24.8" fill="url(#mIn)"/>
<circle cx="901.8" cy="328" r="36.6" fill="url(#mOut)" stroke="#1e2427" stroke-width="1.3"/><circle cx="904.8" cy="328.5" r="24.8" fill="url(#mIn)"/>
<g transform="translate(823.4,485.4) rotate(-20) scale(1)"><path d="M-1.4,15.5 L-1.4,-0.5 M1.4,15.5 L1.4,-0.5 M-1.4,-0.5 L-10.7,-9.3 M-6.58,-1.55 L-12.62,-7.27 M1.4,-0.5 L10.7,-9.3 M6.58,-1.55 L12.62,-7.27" stroke="#13323a" stroke-width="4.0" fill="none" stroke-linecap="round"/><path d="M-1.4,15.5 L-1.4,-0.5 M1.4,15.5 L1.4,-0.5 M-1.4,-0.5 L-10.7,-9.3 M-6.58,-1.55 L-12.62,-7.27 M1.4,-0.5 L10.7,-9.3 M6.58,-1.55 L12.62,-7.27" stroke="#2b8595" stroke-width="2.0" fill="none" stroke-linecap="round"/></g>
<g transform="translate(864.4,497) rotate(20) scale(1)"><path d="M-1.4,15.5 L-1.4,-0.5 M1.4,15.5 L1.4,-0.5 M-1.4,-0.5 L-10.7,-9.3 M-6.58,-1.55 L-12.62,-7.27 M1.4,-0.5 L10.7,-9.3 M6.58,-1.55 L12.62,-7.27" stroke="#13323a" stroke-width="4.0" fill="none" stroke-linecap="round"/><path d="M-1.4,15.5 L-1.4,-0.5 M1.4,15.5 L1.4,-0.5 M-1.4,-0.5 L-10.7,-9.3 M-6.58,-1.55 L-12.62,-7.27 M1.4,-0.5 L10.7,-9.3 M6.58,-1.55 L12.62,-7.27" stroke="#2b8595" stroke-width="2.0" fill="none" stroke-linecap="round"/></g>
<g transform="translate(898.8,487.6) rotate(0) scale(1)"><path d="M-1.4,15.5 L-1.4,-0.5 M1.4,15.5 L1.4,-0.5 M-1.4,-0.5 L-10.7,-9.3 M-6.58,-1.55 L-12.62,-7.27 M1.4,-0.5 L10.7,-9.3 M6.58,-1.55 L12.62,-7.27" stroke="#13323a" stroke-width="4.0" fill="none" stroke-linecap="round"/><path d="M-1.4,15.5 L-1.4,-0.5 M1.4,15.5 L1.4,-0.5 M-1.4,-0.5 L-10.7,-9.3 M-6.58,-1.55 L-12.62,-7.27 M1.4,-0.5 L10.7,-9.3 M6.58,-1.55 L12.62,-7.27" stroke="#2b8595" stroke-width="2.0" fill="none" stroke-linecap="round"/></g>
<g transform="translate(923.7,501.5) rotate(47) scale(1)"><path d="M-1.4,15.5 L-1.4,-0.5 M1.4,15.5 L1.4,-0.5 M-1.4,-0.5 L-10.7,-9.3 M-6.58,-1.55 L-12.62,-7.27 M1.4,-0.5 L10.7,-9.3 M6.58,-1.55 L12.62,-7.27" stroke="#13323a" stroke-width="4.0" fill="none" stroke-linecap="round"/><path d="M-1.4,15.5 L-1.4,-0.5 M1.4,15.5 L1.4,-0.5 M-1.4,-0.5 L-10.7,-9.3 M-6.58,-1.55 L-12.62,-7.27 M1.4,-0.5 L10.7,-9.3 M6.58,-1.55 L12.62,-7.27" stroke="#2b8595" stroke-width="2.0" fill="none" stroke-linecap="round"/></g>
<g transform="translate(240.5,513.5) rotate(10)"><rect x="-6.8" y="-15" width="6.6" height="32" rx="3.3" fill="url(#mhc)" stroke="#1d2a30" stroke-width="1.1"/><rect x="0.4" y="-15" width="6.6" height="32" rx="3.3" fill="url(#mhc)" stroke="#1d2a30" stroke-width="1.1"/><path d="M0,-13 L0,15" stroke="#1d2a30" stroke-width="0.8"/></g>
<g transform="translate(242,493) rotate(8.5)"><path d="M-3.6,-36 L-3.6,-8.5 C-8.5,-8 -11,-4 -11,1 C-11,5 -9,7 -7,7 L7,7 C9,7 11,5 11,1 C11,-4 8.5,-8 3.6,-8.5 L3.6,-36 C3.6,-39 -3.6,-39 -3.6,-36 Z" fill="#f1c39c" stroke="#2a2220" stroke-width="1.1"/><path d="M-2.4,-35 L2.4,-37.4 M-2.4,-32 L2.4,-34.4 M-2.4,-29 L2.4,-31.4 M-2.4,-26 L2.4,-28.4 M-2.4,-23 L2.4,-25.4 M-2.4,-20 L2.4,-22.4 M-2.4,-17 L2.4,-19.4 M-2.4,-14 L2.4,-16.4 M-2.4,-11 L2.4,-13.4 M-2.4,-8 L2.4,-10.4 M-2.4,-5 L2.4,-7.4 M-2.4,-2 L2.4,-4.4 M-2.4,1 L2.4,-1.4 " stroke="#6b4a36" stroke-width="0.75" fill="none"/><ellipse cx="-1" cy="7" rx="3.3" ry="3.6" fill="#e9954f" stroke="#2a2220" stroke-width="1"/></g>
<g transform="translate(235.5,595.5) rotate(12)"><rect x="-9.5" y="-2.5" width="8" height="8" rx="2" fill="#a6dbe6" stroke="#1d2a30" stroke-width="1.1"/><path d="M-17,-9.5 C-19,-9.5 -20,-8 -19.5,-6.5 C-19,-4 -17,-3 -14,-3 L-0.5,-3 L-0.5,7 C-0.5,9 1,10 3,10 L15,10 L15,-9.5 Z" fill="url(#mhcb)" stroke="#1d2a30" stroke-width="1.1"/><circle cx="11.5" cy="2.5" r="3.3" fill="#bcdb9c" stroke="#1d2a30" stroke-width="1"/></g>
<g transform="translate(252.5,599) rotate(14)"><path d="M0,-10 C4,-12 8,-11 10,-6 C11,-4 12,-3.5 14,-3.5 L43,-3.5 C46,-3.5 46,3.5 43,3.5 L14,3.5 C12,3.5 11,4 10,6 C8,11 4,12 0,10 C-3,9 -3,-9 0,-10 Z" fill="#f1c39c" stroke="#2a2220" stroke-width="1.1"/><path d="M13,2.4 L15.4,-2.4 M16,2.4 L18.4,-2.4 M19,2.4 L21.4,-2.4 M22,2.4 L24.4,-2.4 M25,2.4 L27.4,-2.4 M28,2.4 L30.4,-2.4 M31,2.4 L33.4,-2.4 M34,2.4 L36.4,-2.4 M37,2.4 L39.4,-2.4 M40,2.4 L42.4,-2.4 M43,2.4 L45.4,-2.4 " stroke="#6b4a36" stroke-width="0.75" fill="none"/></g>
<circle cx="472.8" cy="369.4" r="2.2" fill="#f3d36a" stroke="#2a2220" stroke-width="0.9"/>
</svg>
</body></html>
